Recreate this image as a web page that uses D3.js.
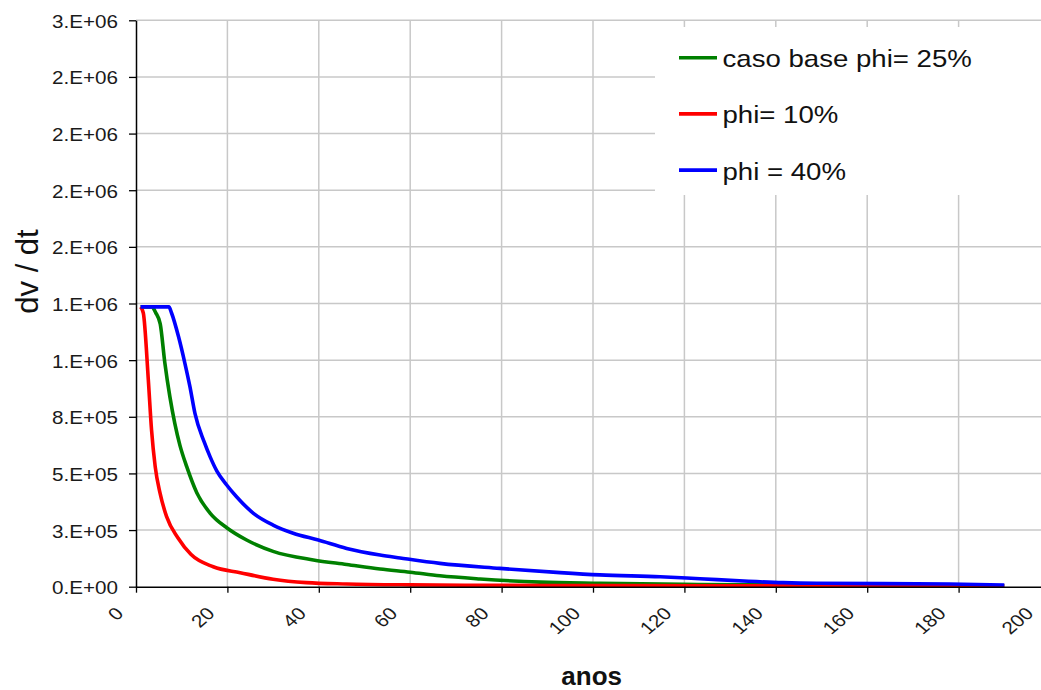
<!DOCTYPE html>
<html>
<head>
<meta charset="utf-8">
<script src="https://cdnjs.cloudflare.com/ajax/libs/d3/7.8.5/d3.min.js"></script>
<style>
body { margin: 0; background: #fff; }
text { font-family: "Liberation Sans", Arial, sans-serif; }
</style>
</head>
<body>
<svg id="chart"></svg>
<script>
// series (anos, dv/dt)
var yearsBase = [1, 3.5, 4.3, 5.3, 6.3, 7.4, 8.5, 9.6, 11.1, 13.3, 16.2, 20, 24.2, 30, 38.8, 46.1, 53.4, 60, 66.5, 75.3, 88.4, 101.5, 123, 140, 160, 180, 190];
var valuesBase = [1235000, 1235000, 1210000, 1160000, 990000, 840000, 720000, 625000, 530000, 415000, 325000, 258000, 206000, 156000, 118000, 98000, 78000, 64000, 48000, 34000, 20000, 15000, 10000, 8000, 6000, 5000, 4000];

var years10 = [1, 1.6, 2.7, 3.4, 4.2, 5.25, 6.7, 9.2, 12, 16.9, 22.8, 30, 37.3, 46.1, 60, 80, 100, 130, 160, 190];
var values10 = [1235000, 1208000, 912000, 692000, 530000, 414000, 309000, 215000, 143000, 88000, 62000, 33000, 18000, 12000, 8000, 6000, 5000, 4000, 3000, 3000];

var years40 = [1, 7.2, 7.8, 9.3, 10.7, 11.8, 12.9, 14.9, 16.2, 17.7, 19.8, 22, 25.7, 30, 34.4, 39.9, 46.1, 53.4, 57.8, 66.5, 79.6, 92.8, 101.5, 114.7, 123.4, 134, 141.6, 149, 178, 190];
var values40 = [1235000, 1235000, 1207000, 1104000, 986000, 883000, 765000, 640000, 574000, 510000, 450000, 397000, 324000, 272000, 236000, 206000, 169000, 140000, 127000, 103000, 81000, 62000, 52000, 44000, 35000, 24000, 18000, 15000, 12000, 7500];

var seriesNames = ['caso base phi= 25%', 'phi= 10%', 'phi = 40%'];
var seriesColors = ['#008000', '#ff0000', '#0000ff'];

var xTickValues = [0, 20, 40, 60, 80, 100, 120, 140, 160, 180, 200];
var yTickValues = [0, 250000, 500000, 750000, 1000000, 1250000, 1500000, 1750000, 2000000, 2250000, 2500000];
var yTickLabels = ['0.E+00', '3.E+05', '5.E+05', '8.E+05', '1.E+06', '1.E+06', '2.E+06', '2.E+06', '2.E+06', '2.E+06', '3.E+06'];

function Chart() {
    var svg, xScale, yScale;

    var dim = {
        width: 1041,
        height: 690,
        left: 136,
        right: 1050,
        top: 20.3,
        bottom: 586.7
    };

    this.draw = function() {
        svg = d3.select('#chart')
            .attr('width', dim.width)
            .attr('height', dim.height);

        xScale = d3.scaleLinear().domain([0, 200]).range([dim.left, dim.right]);
        yScale = d3.scaleLinear().domain([0, 2500000]).range([dim.bottom, dim.top]);

        drawGrid();
        drawLegendBox();
        drawLines();
        drawAxes();
        drawLegend();
        drawTitles();
    };

    function drawGrid() {
        svg.append('g').selectAll('line')
            .data(xTickValues.slice(1))
            .enter().append('line')
            .attr('x1', function(d) { return xScale(d); })
            .attr('x2', function(d) { return xScale(d); })
            .attr('y1', dim.top)
            .attr('y2', dim.bottom)
            .attr('stroke', '#c8c8c8')
            .attr('stroke-width', 1.5);

        svg.append('g').selectAll('line')
            .data(yTickValues.slice(1))
            .enter().append('line')
            .attr('x1', dim.left)
            .attr('x2', dim.right)
            .attr('y1', function(d) { return yScale(d); })
            .attr('y2', function(d) { return yScale(d); })
            .attr('stroke', '#c8c8c8')
            .attr('stroke-width', 1.5);
    }

    function drawLegendBox() {
        svg.append('rect')
            .attr('x', 655)
            .attr('y', 27)
            .attr('width', dim.width - 655)
            .attr('height', 168)
            .attr('fill', '#fff');
    }

    function drawLines() {
        var all = [
            { years: yearsBase, values: valuesBase },
            { years: years10, values: values10 },
            { years: years40, values: values40 }
        ];
        var line = d3.line()
            .curve(d3.curveMonotoneX)
            .x(function(d) { return xScale(d[0]); })
            .y(function(d) { return yScale(d[1]); });

        all.forEach(function(s, i) {
            var pts = s.years.map(function(y, j) { return [y, s.values[j]]; });
            svg.append('path')
                .attr('d', line(pts))
                .attr('fill', 'none')
                .attr('stroke', seriesColors[i])
                .attr('stroke-width', 3.6)
                .attr('stroke-linejoin', 'round');
        });
    }

    function drawAxes() {
        var xAxis = d3.axisBottom(xScale)
            .tickValues(xTickValues)
            .tickFormat(d3.format('d'))
            .tickSize(6)
            .tickSizeOuter(0);
        var yAxis = d3.axisLeft(yScale)
            .tickValues(yTickValues)
            .tickFormat(function(d, i) { return yTickLabels[i]; })
            .tickSize(7)
            .tickSizeOuter(0);

        var gx = svg.append('g')
            .attr('transform', 'translate(0,' + dim.bottom + ')')
            .call(xAxis);
        var gy = svg.append('g')
            .attr('transform', 'translate(' + dim.left + ',0)')
            .call(yAxis);

        [gx, gy].forEach(function(g) {
            g.attr('font-family', null).attr('font-size', null);
            g.select('.domain').attr('stroke', '#000').attr('stroke-width', 1.5);
            g.selectAll('.tick line').attr('stroke', '#000').attr('stroke-width', 1.3);
            g.selectAll('.tick text')
                .attr('fill', '#1a1a1a')
                .style('font-size', '17.5px');
        });

        gy.selectAll('.tick text')
            .attr('x', null)
            .attr('dy', null)
            .attr('text-anchor', 'end')
            .attr('transform', 'translate(-18,7) scale(1.18,1)');

        // the last label sits against the page edge, keep it inside
        gx.selectAll('.tick text')
            .attr('y', null)
            .attr('dy', null)
            .attr('text-anchor', 'end')
            .attr('transform', function(d) {
                var shift = xScale(d) > dim.width - 20 ? -16 : -12;
                return 'translate(' + shift + ',28) scale(1.18,1) rotate(-45)';
            });
    }

    function drawLegend() {
        var items = svg.append('g').selectAll('g')
            .data(seriesNames)
            .enter().append('g')
            .attr('transform', function(d, i) { return 'translate(0,' + (57.7 + i * 56.2) + ')'; });

        items.append('line')
            .attr('x1', 679)
            .attr('x2', 717)
            .attr('stroke', function(d, i) { return seriesColors[i]; })
            .attr('stroke-width', 3.6);

        items.append('text')
            .attr('transform', 'translate(722.5,9.5) scale(1.15,1)')
            .style('font-size', '24px')
            .attr('fill', '#111')
            .text(function(d) { return d; });
    }

    function drawTitles() {
        svg.append('text')
            .attr('transform', 'translate(38,271.5) rotate(-90)')
            .attr('text-anchor', 'middle')
            .style('font-size', '31px')
            .attr('fill', '#111')
            .text('dv / dt');

        svg.append('text')
            .attr('x', 591.7)
            .attr('y', 685)
            .attr('text-anchor', 'middle')
            .style('font-size', '26px')
            .style('font-weight', 'bold')
            .attr('fill', '#111')
            .text('anos');
    }
}

new Chart().draw();
</script>
</body>
</html>
